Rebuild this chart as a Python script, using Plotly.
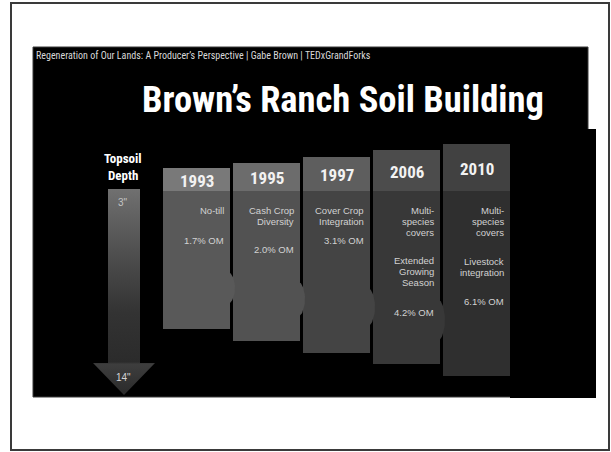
import numpy as np
import plotly.graph_objects as go

# ---------------- data ----------------
years = ["1993", "1995", "1997", "2006", "2010"]
practices = [["No-till"], ["Cash Crop", "Diversity"], ["Cover Crop", "Integration"],
             ["Multi-", "species", "covers"], ["Multi-", "species", "covers"]]
extras = [[], [], [], ["Extended", "Growing", "Season"], ["Livestock", "integration"]]
om_pct = [1.7, 2.0, 3.1, 4.2, 6.1]
depth_labels = ['3"', '14"']
title = "Brown\u2019s Ranch Soil Building"
subtitle = "Regeneration of Our Lands: A Producer\u2019s Perspective | Gabe Brown | TEDxGrandForks"

# ---------------- layout (pixel-like axis space) ----------------
W, H = 611, 452
box_left0, box_step, box_w = 163, 70, 67
box_top = [168, 163, 157, 150, 144]
box_bottom = [329, 341, 353, 364, 376]
header_bottom = 191
om_y = [240, 249, 240, 312, 301]
extra_y = [None, None, None, 260, 261]
bump_y = [288, 299, 307, 320]
header_colors = ["#797979", "#6c6c6c", "#5e5e5e", "#4c4c4c", "#414141"]
body_colors = ["#595959", "#525252", "#444444", "#383838", "#2f2f2f"]
COND = "Roboto Condensed, Liberation Sans, sans-serif"
BODY = "Liberation Sans, Arial, sans-serif"

lefts = [box_left0 + i * box_step for i in range(len(years))]
rights = [l + box_w for l in lefts]
centers = [l + box_w / 2 for l in lefts]

fig = go.Figure()

# body bars
fig.add_trace(go.Bar(x=centers, y=[b - header_bottom for b in box_bottom], base=[header_bottom] * len(years),
                     width=[box_w] * len(years), marker=dict(color=body_colors, line=dict(width=0)),
                     hoverinfo="skip", showlegend=False))
# header bars
fig.add_trace(go.Bar(x=centers, y=[header_bottom - t for t in box_top], base=box_top,
                     width=[box_w] * len(years), marker=dict(color=header_colors, line=dict(width=0)),
                     hoverinfo="skip", showlegend=False))

# bumps (rounded arrow tips between boxes)
t = np.linspace(-np.pi / 2, np.pi / 2, 30)
for i, cy in enumerate(bump_y):
    r = rights[i]
    hh = 15 + 1.5 * i
    xs = np.concatenate([[r - 1], r + 5 * np.cos(t) ** 1.5, [r - 1]])
    ys = np.concatenate([[cy - hh], cy + hh * np.sin(t), [cy + hh]])
    fig.add_trace(go.Scatter(x=xs, y=ys, fill="toself", fillcolor=body_colors[i], mode="lines",
                             line=dict(width=0, color=body_colors[i]), hoverinfo="skip", showlegend=False))

# topsoil depth arrow with vertical gradient
ax_c, shaft_half, head_half = 124, 16, 31
shaft_top, head_start, tip = 189, 363, 395
arrow_x = [ax_c - shaft_half, ax_c + shaft_half, ax_c + shaft_half, ax_c + head_half, ax_c,
           ax_c - head_half, ax_c - shaft_half, ax_c - shaft_half]
arrow_y = [shaft_top, shaft_top, head_start, head_start, tip, head_start, head_start, shaft_top]
fig.add_trace(go.Scatter(
    x=arrow_x, y=arrow_y, fill="toself", mode="lines", line=dict(width=0),
    fillgradient=dict(type="vertical", start=shaft_top, stop=tip,
                      colorscale=[[0, "#707070"], [0.3, "#505050"], [0.6, "#333333"],
                                  [0.84, "#2b2b2b"], [0.85, "#3e3e3e"], [1, "#2a2a2a"]]),
    hoverinfo="skip", showlegend=False))

shapes = [
    dict(type="rect", x0=11, y0=3, x1=609, y1=450, line=dict(color="#3a3a3a", width=2),
         fillcolor="rgba(0,0,0,0)", layer="above"),
    dict(type="rect", x0=33, y0=47, x1=588, y1=397, line=dict(color="#3a3a3a", width=1),
         fillcolor="#000000", layer="below"),
    dict(type="rect", x0=510, y0=129, x1=596, y1=398, line=dict(width=0),
         fillcolor="#000000", layer="below"),
]

ann = []
def txt(x, y, s, size, color="#d2d2d2", family=BODY, xanchor="center", bold=False):
    ann.append(dict(x=x, y=y, text=s, showarrow=False,
                    xanchor=xanchor, yanchor="middle",
                    font=dict(size=size, color=color, family=family,
                              weight="bold" if bold else "normal")))

txt(34, 55, subtitle, 10, color="#d8d8d8", family=COND, xanchor="left")
txt(343, 99, title, 36.5, color="#ffffff", family=COND, bold=True)
txt(123, 158, "Topsoil", 13, color="#ffffff", family=COND, bold=True)
txt(123, 175, "Depth", 13, color="#ffffff", family=COND, bold=True)
txt(123, 202, depth_labels[0], 10, color="#c4c4c4")
txt(123, 377, depth_labels[1], 10, color="#d4d4d4")

for i, yr in enumerate(years):
    txt(centers[i], (box_top[i] + header_bottom) / 2 + 1, yr, 17, color="#f2f2f2",
        family=COND, bold=True)
    xr = rights[i] - 4
    for k, line in enumerate(practices[i]):
        txt(xr, 210 + 11 * k, line, 9.5, xanchor="right")
    if extra_y[i] is not None:
        for k, line in enumerate(extras[i]):
            txt(xr, extra_y[i] + 11 * k, line, 9.5, xanchor="right")
    txt(xr, om_y[i], "%.1f%% OM" % om_pct[i], 9.5, xanchor="right")

fig.update_layout(
    width=W, height=H, margin=dict(l=0, r=0, t=0, b=0),
    paper_bgcolor="#ffffff", plot_bgcolor="#ffffff",
    barmode="overlay", bargap=0,
    xaxis=dict(range=[0, W], visible=False, fixedrange=True),
    yaxis=dict(range=[H, 0], visible=False, fixedrange=True),
    shapes=shapes, annotations=ann, showlegend=False,
)

fig.write_html("out.html")
